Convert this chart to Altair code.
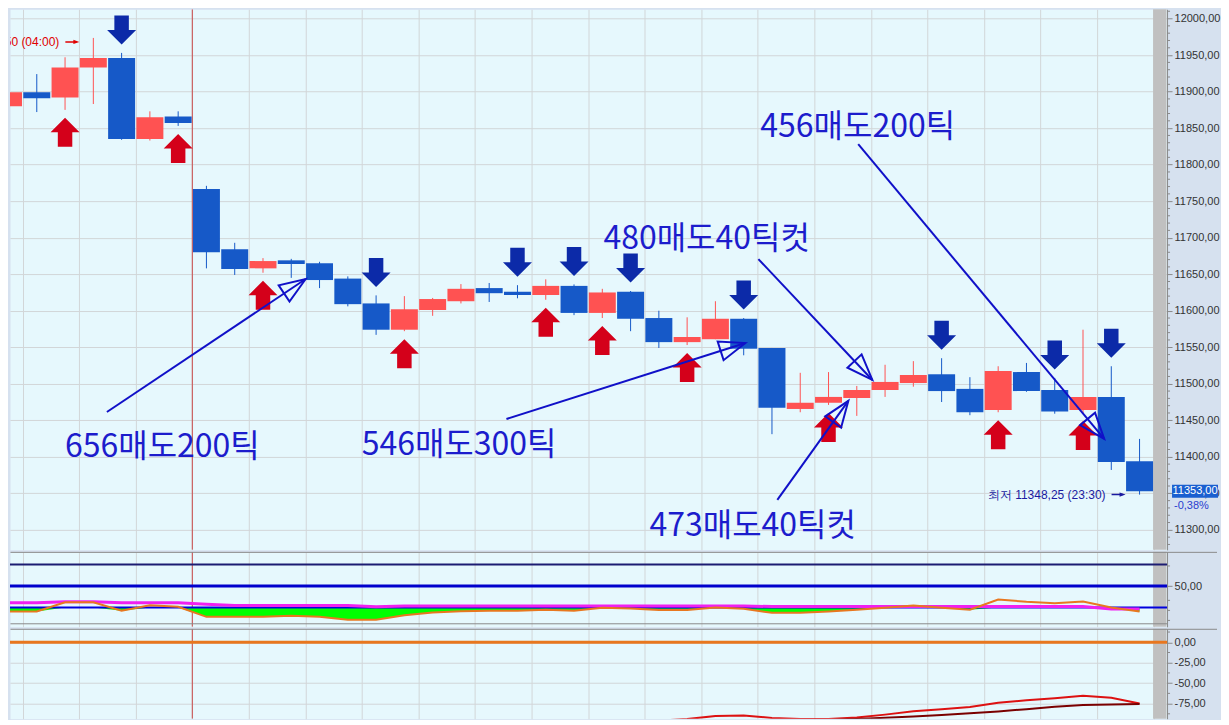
import math
import altair as alt
import pandas as pd

# ---------------- data ----------------
opens = [11880, 11899, 11892, 11933, 11946, 11835, 11866, 11766.5, 11684, 11658,
         11669, 11665, 11644, 11610, 11574, 11601, 11613, 11631, 11626, 11621.5,
         11634, 11597, 11626, 11590, 11557, 11561, 11589, 11549, 11465.5, 11474,
         11480.5, 11491.5, 11501, 11513, 11493, 11464, 11516, 11491.5, 11464, 11482,
         11394]
highs = [11946, 11924, 11947, 11973.5, 11953, 11873, 11873, 11771, 11693, 11672,
         11671, 11667, 11647, 11621, 11620, 11617.5, 11636.5, 11638, 11635, 11643,
         11636, 11630, 11627, 11600, 11591, 11613, 11590, 11549, 11515, 11516,
         11497, 11526, 11531, 11535, 11509, 11524, 11528.5, 11508, 11574, 11524,
         11424.5]
lows = [11849, 11872, 11875, 11883, 11834, 11833, 11853, 11658, 11649, 11652,
        11645, 11631, 11606, 11567, 11572, 11593, 11610, 11612, 11617, 11615,
        11594, 11590, 11572, 11549, 11553, 11561, 11539, 11431, 11461, 11471,
        11456, 11482, 11496, 11475, 11457, 11461, 11489, 11459, 11460, 11382,
        11348.25]
closes = [11899, 11891, 11933, 11946, 11835, 11865, 11857, 11680, 11657, 11668,
          11664, 11642, 11609, 11574, 11602, 11616, 11630, 11624, 11621.5, 11634,
          11597, 11625, 11589, 11557, 11564, 11589, 11548, 11467, 11474, 11482,
          11491.5, 11502.5, 11512, 11490, 11461, 11517.5, 11490, 11462, 11482, 11393,
          11353]

buy_signals = [2, 6, 9, 14, 19, 21, 24, 29, 35, 38]
sell_signals = [4, 13, 18, 20, 22, 26, 33, 37, 39]
session_breaks = [6.5]

ann_texts = ["656매도200틱", "546매도300틱", "480매도40틱컷", "473매도40틱컷", "456매도200틱"]
ann_text_x = [2.0, 12.49, 21.04, 22.67, 26.59]
ann_text_y = [11399.9, 11402.6, 11684.4, 11291.8, 11837.6]
ann_from_x = [3.48, 17.61, 26.52, 27.19, 30.05]
ann_from_y = [11461.4, 11451.8, 11670.7, 11341.0, 11828.0]
ann_to_x = [10.51, 26.06, 30.55, 29.70, 38.75]
ann_to_y = [11643.4, 11555.8, 11505.2, 11476.5, 11424.5]

high_label = "최고 11973,50 (04:00)"
low_label = "최저 11348,25 (23:30)"
high_label_index = 3
low_label_index = 40
last_change = "-0,38%"

# oscillator panel (orange) and its signal (magenta)
osc = [14.4, 14.4, 27.3, 27.3, 15.4, 23.1, 21.0, 7.0, 7.0, 7.0,
       8.4, 7.0, 2.8, 2.8, 9.1, 13.0, 14.7, 15.4, 15.4, 16.8,
       15.4, 19.6, 18.6, 16.4, 16.4, 20.0, 18.2, 12.6, 12.6, 14.4,
       16.8, 19.6, 22.8, 19.6, 16.8, 31.2, 28.0, 26.1, 28.4, 20.0,
       14.4]
osc_signal = [26.6, 26.6, 28.0, 28.0, 26.6, 26.6, 26.6, 24.7, 22.8, 22.8,
              22.8, 22.8, 22.8, 21.0, 22.0, 22.0, 22.0, 22.0, 22.0, 22.0,
              22.0, 22.0, 22.0, 22.0, 22.0, 22.0, 22.0, 21.4, 21.4, 21.4,
              21.4, 21.4, 21.4, 21.4, 21.4, 21.4, 21.4, 21.4, 21.4, 17.8,
              17.8]
osc_levels_hi = [80]
osc_levels_mid = [50]
osc_levels_lo = [20]

# lower panel
lower_zero = [0]
red_start = 21
red_line = [-98.5, -96.6, -95.8, -94.0, -90.3, -89.6, -92.5, -94.0, -94.0, -92.0,
            -88.5, -84.5, -82.0, -79.3, -74.0, -71.0, -68.5, -65.3, -68.0, -74.8]
maroon_start = 26
maroon_line = [-98.0, -96.6, -96.0, -95.2, -93.8, -92.4, -90.8, -89.0, -86.8, -84.6,
               -81.8, -79.0, -76.6, -76.0, -75.4]

# ---------------- layout / style ----------------
W = 1158
H1, H2, H3 = 541, 75, 90
PX_PER_POINT = 0.731
Y1_TOP = 12012.7
XDOM = [0.053, 40.972]
Y1DOM = [Y1_TOP - H1 / PX_PER_POINT, Y1_TOP]
Y2DOM = [-6.9, 97.7]
Y3DOM = [-93.5, 16.5]
BODY_HALF = 0.477  # half candle body width, in bar slots

PLOT_BG = "#e6f8fd"
GRID = "#d2d6d8"
AXIS_BG = "#d6e1ef"
BAND = "#c0c0c0"
AXC = "#8a8a8a"
UPC = "#ff5252"
DNC = "#1659c8"
BUYC = "#d4001a"
SELLC = "#0c2aa8"
ANN_LINE = "#1010c8"
ANN_TEXT = "#1c1ccc"
SESS = "#c84848"
MAG = "#f020f0"
ORG = "#e8771f"
LF = "Liberation Sans"
CJK = "Noto Sans CJK KR"

LBL = "replace(replace(format(datum.value, '.2f'), '.', ','), '\u2212', '-')"

UP_ARROW = "M0,-1L1,0L0.5,0L0.5,1L-0.5,1L-0.5,0L-1,0Z"
DOWN_ARROW = "M0,1L1,0L0.5,0L0.5,-1L-0.5,-1L-0.5,0L-1,0Z"
HEAD = "M0,0L0.75,2L-0.75,2Z"
BOX = "M-2.3,-0.65L2.3,-0.65L2.3,0.65L-2.3,0.65Z"
POINTER = "M1,0L-1,-0.7L-1,0.7Z"

# ---------------- tables ----------------
n = len(opens)
df = pd.DataFrame({"i": list(range(n)), "o": opens, "h": highs, "l": lows, "c": closes})
df["dir"] = ["up" if c >= o else "down" for o, c in zip(opens, closes)]
buy_df = df[df["i"].isin(buy_signals)]
sell_df = df[df["i"].isin(sell_signals)]

pxx = W / (XDOM[1] - XDOM[0])
pxy = H1 / (Y1DOM[1] - Y1DOM[0])
angles = []
for fx, fy, tx, ty in zip(ann_from_x, ann_from_y, ann_to_x, ann_to_y):
    dx = (tx - fx) * pxx
    dy = -(ty - fy) * pxy
    angles.append(math.degrees(math.atan2(dx, -dy)) % 360)
ann = pd.DataFrame({"text": ann_texts, "tx": ann_text_x, "ty": ann_text_y,
                    "fx": ann_from_x, "fy": ann_from_y, "tox": ann_to_x, "toy": ann_to_y,
                    "ang": angles})

hi_df = pd.DataFrame({"i": [high_label_index], "v": [highs[high_label_index]], "t": [high_label]})
lo_df = pd.DataFrame({"i": [low_label_index], "v": [lows[low_label_index]], "t": [low_label]})
last_df = pd.DataFrame({"v": [closes[-1]],
                        "t": [f"{closes[-1]:.2f}".replace(".", ",")],
                        "p": [last_change]})
sess_df = pd.DataFrame({"b": session_breaks})
one = pd.DataFrame({"k": [0]})
osc_df = pd.DataFrame({"i": list(range(n)), "osc": osc, "sig": osc_signal})
red_df = pd.DataFrame({"i": list(range(red_start, red_start + len(red_line))), "v": red_line})
maroon_df = pd.DataFrame({"i": list(range(maroon_start, maroon_start + len(maroon_line))), "v": maroon_line})

# ---------------- scales / axes ----------------
xscale = alt.Scale(domain=XDOM, nice=False, zero=False, padding=0)
xaxis = alt.Axis(values=[k + 0.5 for k in range(0, n, 2)], grid=True, gridColor=GRID,
                 labels=False, ticks=False, domain=False, title=None)


def xq(f):
    return alt.X(f, type="quantitative", scale=xscale, axis=xaxis)


def yaxis(values, grid):
    return alt.Axis(orient="right", values=values, grid=grid, gridColor=GRID, tickSize=5,
                    tickColor=AXC, domainColor=AXC, labelExpr=LBL, labelFont=LF,
                    labelFontSize=11, labelColor="#333333", labelPadding=2,
                    labelOverlap=False, title=None)


y1s = alt.Scale(domain=Y1DOM, nice=False, zero=False, padding=0)
y1a = yaxis(list(range(11300, 12001, 50)), True)
y2s = alt.Scale(domain=Y2DOM, nice=False, zero=False, padding=0)
y2a = yaxis([50], False)
y3s = alt.Scale(domain=Y3DOM, nice=False, zero=False, padding=0)
y3a = yaxis([0, -25, -50, -75], True)


def y1(f):
    return alt.Y(f, type="quantitative", scale=y1s, axis=y1a)


def y2(f):
    return alt.Y(f, type="quantitative", scale=y2s, axis=y2a)


def y3(f):
    return alt.Y(f, type="quantitative", scale=y3s, axis=y3a)


cscale = alt.Scale(domain=["up", "down"], range=[UPC, DNC])


def band(h):
    return alt.Chart(one).mark_rect(color=BAND).encode(
        x=alt.value(W - 14), x2=alt.value(W - 0.5), y=alt.value(0), y2=alt.value(h))


def sess():
    return alt.Chart(sess_df).mark_rule(color=SESS, strokeWidth=1, clip=True).encode(x=xq("b"))


def minor_ticks(vals, yfun):
    t = pd.DataFrame({"v": vals})
    return alt.Chart(t).mark_rule(color=AXC, strokeWidth=1, clip=False).encode(
        x=alt.value(W), x2=alt.value(W + 3), y=yfun("v"))


def extreme_label(data, color, dy):
    txt = alt.Chart(data).mark_text(align="right", baseline="middle", font=LF, fontSize=12,
                                    color=color, dx=-34, dy=dy, clip=True).encode(
        x=xq("i"), y=y1("v"), text="t:N")
    shaft = alt.Chart(data).mark_rule(color=color, strokeWidth=1.5, xOffset=-28,
                                      x2Offset=-17, yOffset=dy, y2Offset=dy, clip=True).encode(
        x=xq("i"), x2=alt.X2("i"), y=y1("v"), y2=alt.Y2("v"))
    head = alt.Chart(data).mark_point(shape=POINTER, size=36, filled=True, color=color,
                                      opacity=1, xOffset=-17, yOffset=dy, clip=True).encode(
        x=xq("i"), y=y1("v"))
    return [txt, shaft, head]


# ---------------- panel 1: candles ----------------
wicks = alt.Chart(df).mark_rule(strokeWidth=1, clip=True).encode(
    x=xq("i"), y=y1("l"), y2=alt.Y2("h"),
    color=alt.Color("dir:N", scale=cscale, legend=None))
bodies = alt.Chart(df).transform_calculate(
    x0=f"datum.i - {BODY_HALF}", x1=f"datum.i + {BODY_HALF}"
).mark_rect(clip=True).encode(
    x=xq("x0:Q"), x2=alt.X2("x1:Q"), y=y1("o"), y2=alt.Y2("c"),
    color=alt.Color("dir:N", scale=cscale, legend=None))
buys = alt.Chart(buy_df).mark_point(shape=UP_ARROW, size=841, filled=True, color=BUYC,
                                    opacity=1, yOffset=22.5, clip=True).encode(x=xq("i"), y=y1("l"))
sells = alt.Chart(sell_df).mark_point(shape=DOWN_ARROW, size=841, filled=True, color=SELLC,
                                      opacity=1, yOffset=-23, clip=True).encode(x=xq("i"), y=y1("h"))
ann_lines = alt.Chart(ann).mark_rule(color=ANN_LINE, strokeWidth=2, clip=True).encode(
    x=xq("fx"), y=y1("fy"), x2=alt.X2("tox"), y2=alt.Y2("toy"))
ann_heads = alt.Chart(ann).mark_point(shape=HEAD, size=676, filled=False, color=ANN_LINE,
                                      strokeWidth=2, opacity=1, clip=True).encode(
    x=xq("tox"), y=y1("toy"), angle=alt.Angle("ang:Q", scale=None))
ann_txt = alt.Chart(ann).mark_text(align="left", baseline="alphabetic", font=CJK,
                                   fontSize=32, color=ANN_TEXT, clip=True).encode(
    x=xq("tx"), y=y1("ty"), text="text:N")
box = alt.Chart(last_df).mark_point(shape=BOX, size=400, filled=True, color="#1a5fd0",
                                    opacity=1, clip=False).encode(
    x=alt.value(W + 28), y=y1("v"))
box_txt = alt.Chart(last_df).mark_text(align="center", baseline="middle", font=LF, fontSize=11,
                                       color="white", clip=False).encode(
    x=alt.value(W + 28), y=y1("v"), text="t:N")
pct_txt = alt.Chart(last_df).mark_text(align="left", baseline="top", font=LF, fontSize=11,
                                       color="#2a3ed0", dy=9, clip=False).encode(
    x=alt.value(W + 7), y=y1("v"), text="p:N")

p1 = alt.layer(
    band(H1), sess(), wicks, bodies, buys, sells, ann_lines, ann_heads, ann_txt,
    *extreme_label(hi_df, "#e00000", 4),
    *extreme_label(lo_df, "#1a1aa0", 0),
    minor_ticks([v for v in range(11280, 12011, 10) if v % 50], y1),
    box, box_txt, pct_txt,
).properties(width=W, height=H1)

# ---------------- panel 2: oscillator ----------------
green = alt.Chart(osc_df).transform_calculate(
    lo="min(datum.osc, 20)", base="20").mark_area(color="#00ff00", opacity=1, clip=True).encode(
    x=xq("i"), y=y2("lo:Q"), y2=alt.Y2("base:Q"))
lv_hi = alt.Chart(pd.DataFrame({"v": osc_levels_hi})).mark_rule(color="#1c1c72", strokeWidth=2).encode(y=y2("v"))
lv_mid = alt.Chart(pd.DataFrame({"v": osc_levels_mid})).mark_rule(color="#0000cc", strokeWidth=3).encode(y=y2("v"))
lv_lo = alt.Chart(pd.DataFrame({"v": osc_levels_lo})).mark_rule(color="#0000dd", strokeWidth=2).encode(y=y2("v"))
sep2_top = alt.Chart(one).mark_rule(color="#8a8a8a", strokeWidth=1, clip=False).encode(
    x=alt.value(0.5), x2=alt.value(W + 50), y=alt.value(0.5))
sep2_bot = alt.Chart(one).mark_rule(color="#8a8a8a", strokeWidth=1).encode(
    x=alt.value(0.5), x2=alt.value(W), y=alt.value(H2 - 3))
mag_line = alt.Chart(osc_df).mark_line(color=MAG, strokeWidth=3, clip=True).encode(x=xq("i"), y=y2("sig"))
org_line = alt.Chart(osc_df).mark_line(color=ORG, strokeWidth=2, clip=True).encode(x=xq("i"), y=y2("osc"))

p2 = alt.layer(
    band(H2), sess(), green, lv_hi, lv_mid, lv_lo, sep2_bot, mag_line, org_line,
    minor_ticks([78, 30, 16, 2], y2), sep2_top,
).properties(width=W, height=H2)

# ---------------- panel 3 ----------------
sep3_top = alt.Chart(one).mark_rule(color="#8a8a8a", strokeWidth=1, clip=False).encode(
    x=alt.value(0.5), x2=alt.value(W + 50), y=alt.value(0.5))
zero_line = alt.Chart(pd.DataFrame({"v": lower_zero})).mark_rule(color=ORG, strokeWidth=3).encode(y=y3("v"))
red_l = alt.Chart(red_df).mark_line(color="#dd1111", strokeWidth=2, clip=True).encode(x=xq("i"), y=y3("v"))
maroon_l = alt.Chart(maroon_df).mark_line(color="#7a0000", strokeWidth=2, clip=True).encode(x=xq("i"), y=y3("v"))

p3 = alt.layer(
    band(H3), sess(), zero_line, red_l, maroon_l,
    minor_ticks([12.5, -12.5, -37.5, -62.5, -87.5], y3), sep3_top,
).properties(width=W, height=H3)

chart = alt.vconcat(p1, p2, p3, spacing=0, padding=0, background=AXIS_BG).configure_view(
    stroke="transparent", fill=PLOT_BG)

chart.save("out.html", embed_options={"renderer": "svg", "actions": False})
